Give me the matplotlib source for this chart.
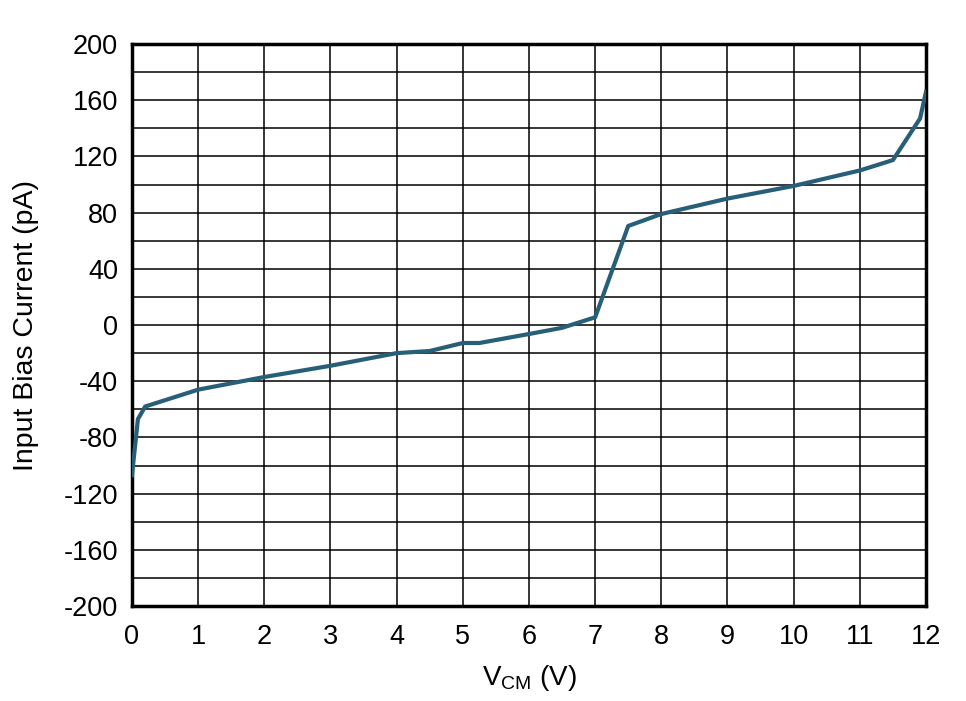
import matplotlib
matplotlib.use("Agg")
import matplotlib.pyplot as plt
import numpy as np

# VCM sweep (V) and input bias current (pA)
vcm = [0.0, 0.09, 0.2, 1.0, 2.0, 3.0, 4.0, 4.5, 5.0, 5.25, 6.0, 6.5, 7.0,
       7.5, 8.0, 9.0, 10.0, 11.0, 11.5, 11.91, 12.0]
ibias = [-107, -67, -58, -46, -37, -29, -20, -18.5, -12.8, -12.8, -6.4, -2,
         5.5, 70.5, 79, 90, 99, 110, 117.4, 147, 166]

xticks = list(range(0, 13))
yticks = list(range(-200, 201, 40))

plt.rcParams["font.family"] = ["Liberation Sans", "DejaVu Sans"]
plt.rcParams["mathtext.fontset"] = "custom"
plt.rcParams["mathtext.rm"] = "Liberation Sans"
plt.rcParams["axes.unicode_minus"] = False

fig = plt.figure(figsize=(9.66, 7.01), dpi=100)
ax = fig.add_axes([0.1366, 0.1355, 0.8220, 0.8017])

ax.plot(vcm, ibias, color="#285f78", linewidth=3.0, zorder=3)

ax.set_xlim(0, 12)
ax.set_ylim(-200, 200)
ax.set_xticks(xticks)
ax.set_yticks(yticks)
ax.set_yticks(list(range(-180, 200, 40)), minor=True)
ax.grid(True, which="both", color="black", linewidth=1.1)
ax.tick_params(which="both", length=0, labelsize=19.5)
ax.tick_params(axis="y", pad=10)
ax.tick_params(axis="x", pad=13)

for s in ax.spines.values():
    s.set_linewidth(2.5)

ax.set_xlabel(r"V$_{\mathregular{CM}}$ (V)", fontsize=20, labelpad=9)
ax.set_ylabel("Input Bias Current (pA)", fontsize=20.5, labelpad=18)

fig.savefig("out.png", dpi=100)
